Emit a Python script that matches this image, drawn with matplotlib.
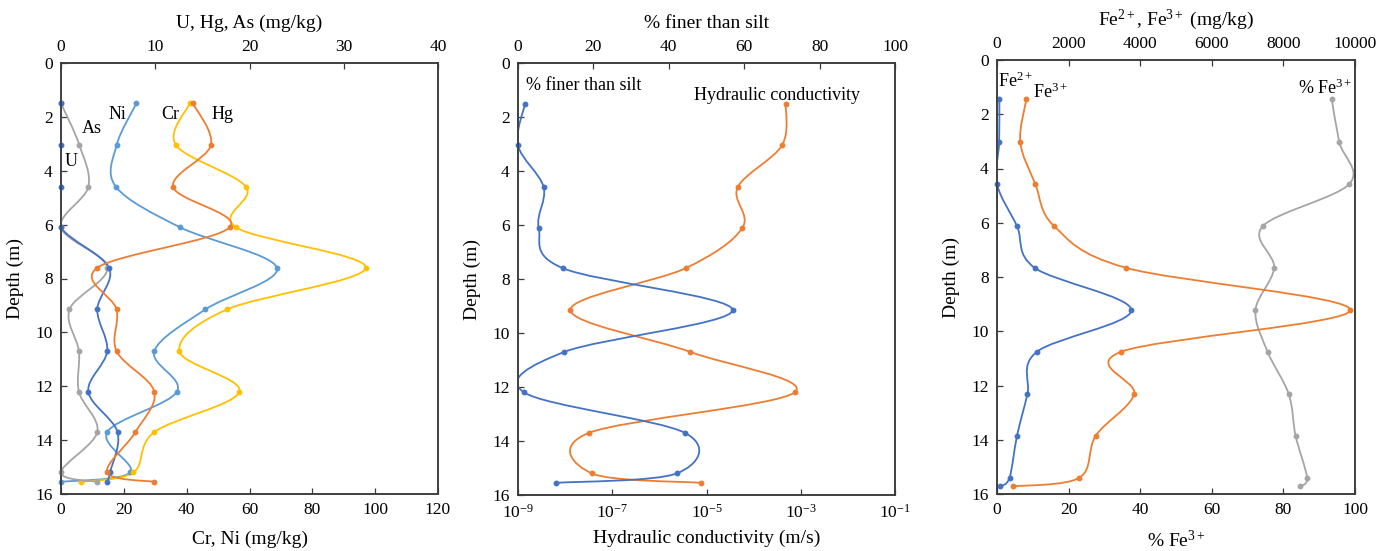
import numpy as np
import matplotlib
matplotlib.use("Agg")
import matplotlib.pyplot as plt
from matplotlib.path import Path
from matplotlib.patches import PathPatch

plt.rcParams['font.family'] = ['Liberation Serif', 'DejaVu Serif']
plt.rcParams['mathtext.fontset'] = 'custom'
plt.rcParams['mathtext.rm'] = 'Liberation Serif'
plt.rcParams['mathtext.it'] = 'Liberation Serif:italic'
plt.rcParams['mathtext.bf'] = 'Liberation Serif:bold'

# ---------------- data ----------------
depth1 = [1.5, 3.05, 4.6, 6.1, 7.6, 9.15, 10.7, 12.2, 13.7, 15.2, 15.55]
ni = [24, 17.7, 17.5, 37.9, 68.7, 45.9, 29.7, 36.9, 14.7, 22, 0]
cr = [41, 36.6, 58.9, 55.7, 97, 52.8, 37.7, 56.8, 29.7, 23, 6.4]
hg = [14, 15.9, 11.9, 17.9, 3.85, 5.9, 5.9, 9.9, 7.9, 4.9, 9.9]
as_ = [0, 1.95, 2.9, 0, 4.9, 0.9, 1.9, 1.9, 3.85, 0, 3.85]
u = [0, 0, 0, 0, 5.1, 3.85, 4.9, 2.9, 6.0, 5.2, 4.9]

depth2 = [1.5, 3.05, 4.6, 6.1, 7.6, 9.15, 10.7, 12.2, 13.7, 15.2, 15.55]
finer = [1.9, 0, 6.8, 5.5, 11.9, 56.9, 12.3, 1.6, 44.3, 42.1, 10.2]
hyd_k = [4.8e-4, 4.0e-4, 4.6e-5, 5.8e-5, 3.6e-6, 1.3e-8, 4.5e-6, 7.4e-4,
         3.2e-8, 3.7e-8, 7.6e-6]

depth3 = [1.45, 3.03, 4.57, 6.13, 7.66, 9.22, 10.76, 12.32, 13.85, 15.4, 15.72]
fe2 = [65, 60, 0, 560, 1050, 3750, 1110, 850, 560, 350, 90]
fe3 = [820, 650, 1070, 1600, 3600, 9870, 3460, 3830, 2760, 2300, 440]
pct_fe3 = [93.5, 95.6, 98.4, 74.2, 77.4, 72.2, 75.6, 81.5, 83.4, 86.6, 84.5]

depth_ticks = [0, 2, 4, 6, 8, 10, 12, 14, 16]

C_ORANGE = '#ED7D31'
C_GRAY = '#A5A5A5'
C_YELLOW = '#FFC000'
C_LBLUE = '#5B9BD5'
C_DBLUE = '#4472C4'
SPINE = '#3a3a3a'

TICK_FS = 12.5
LABEL_FS = 14
ANN_FS = 13

W, H = 1385, 551
fig = plt.figure(figsize=(W / 100, H / 100), dpi=100)


def add_axes_px(l, r, t, b):
    return fig.add_axes([l / W, 1 - b / H, (r - l) / W, (b - t) / H])


def smooth_curve(ax, xs, ys, color, logx=False, lw=1.3):
    """Excel-like smoothed line drawn as cubic Bezier path."""
    xs = np.asarray(xs, float)
    ys = np.asarray(ys, float)
    X = np.log10(xs) if logx else xs
    P = np.column_stack([X, ys])
    n = len(P)
    verts = [P[0]]
    codes = [Path.MOVETO]
    for i in range(n - 1):
        p0 = P[i - 1] if i > 0 else P[i]
        p1 = P[i]
        p2 = P[i + 1]
        p3 = P[i + 2] if i + 2 < n else P[i + 1]
        c1 = p1 + (p2 - p0) / 6.0
        c2 = p2 - (p3 - p1) / 6.0
        verts += [c1, c2, p2]
        codes += [Path.CURVE4] * 3
    V = np.array(verts)
    if logx:
        V[:, 0] = 10 ** V[:, 0]
    patch = PathPatch(Path(V, codes), facecolor='none', edgecolor=color,
                      lw=lw, transform=ax.transData, clip_on=True)
    ax.add_patch(patch)
    ax.plot(xs, ys, 'o', ms=3.2, color=color, linestyle='none', clip_on=False)


def style(ax, top):
    for s in ax.spines.values():
        s.set_color(SPINE)
        s.set_linewidth(1.1)
    ax.tick_params(axis='both', direction='in', length=4, width=0.9,
                   color=SPINE, labelsize=TICK_FS, pad=6)
    if top:
        ax.tick_params(axis='x', top=True, bottom=False, labeltop=True,
                       labelbottom=False)


def base_panel(l, r, t, b):
    ax = add_axes_px(l, r, t, b)
    ax.set_ylim(16, 0)
    ax.set_yticks(depth_ticks)
    ax.set_ylabel('Depth (m)', fontsize=LABEL_FS, labelpad=8)
    axt = ax.twiny()
    ax.set_ylim(16, 0)
    style(ax, False)
    style(axt, True)
    ax.tick_params(axis='x', top=False)
    ax.tick_params(axis='y', right=False)
    return ax, axt

# ---------------- panel 1 ----------------
ax1, ax1t = base_panel(61, 438, 63, 494)
ax1.set_xlim(0, 120)
ax1.set_xticks([0, 20, 40, 60, 80, 100, 120])
ax1t.set_xlim(0, 40)
ax1t.set_xticks([0, 10, 20, 30, 40])
ax1.set_xlabel('Cr, Ni (mg/kg)', fontsize=LABEL_FS, labelpad=9)
ax1t.set_xlabel('U, Hg, As (mg/kg)', fontsize=LABEL_FS, labelpad=8)

smooth_curve(ax1t, as_, depth1, C_GRAY)
smooth_curve(ax1t, u, depth1, C_DBLUE)
smooth_curve(ax1t, hg, depth1, C_ORANGE)
smooth_curve(ax1, ni, depth1, C_LBLUE)
smooth_curve(ax1, cr, depth1, C_YELLOW)

ax1.text(18, 1.93, 'Ni', fontsize=ANN_FS, ha='center', va='center')
ax1.text(9.9, 2.43, 'As', fontsize=ANN_FS, ha='center', va='center')
ax1.text(3.3, 3.67, 'U', fontsize=ANN_FS, ha='center', va='center')
ax1.text(34.7, 1.93, 'Cr', fontsize=ANN_FS, ha='center', va='center')
ax1.text(51.4, 1.93, 'Hg', fontsize=ANN_FS, ha='center', va='center')

# ---------------- panel 2 ----------------
ax2, ax2t = base_panel(518, 895, 63, 495)
ax2.set_xscale('log')
ax2.set_xlim(1e-9, 1e-1)
ax2.set_xticks([1e-9, 1e-7, 1e-5, 1e-3, 1e-1])
ax2.set_xticklabels(['$10^{-9}$', '$10^{-7}$', '$10^{-5}$', '$10^{-3}$', '$10^{-1}$'])
ax2.xaxis.set_minor_locator(matplotlib.ticker.NullLocator())
ax2t.set_xlim(0, 100)
ax2t.set_xticks([0, 20, 40, 60, 80, 100])
ax2.set_xlabel('Hydraulic conductivity (m/s)', fontsize=LABEL_FS, labelpad=6)
ax2t.set_xlabel('% finer than silt', fontsize=LABEL_FS, labelpad=8)

smooth_curve(ax2, hyd_k, depth2, C_ORANGE, logx=True)
smooth_curve(ax2t, finer, depth2, C_DBLUE)

ax2t.text(2.0, 0.83, '% finer than silt', fontsize=ANN_FS, ha='left', va='center')
ax2t.text(68.6, 1.21, 'Hydraulic conductivity', fontsize=ANN_FS, ha='center', va='center')

# ---------------- panel 3 ----------------
ax3, ax3t = base_panel(997, 1355, 60, 494)
ax3.set_xlim(0, 100)
ax3.set_xticks([0, 20, 40, 60, 80, 100])
ax3t.set_xlim(0, 10000)
ax3t.set_xticks([0, 2000, 4000, 6000, 8000, 10000])
ax3.set_xlabel('% Fe$^{3+}$', fontsize=LABEL_FS, labelpad=8)
ax3t.set_xlabel('Fe$^{2+}$, Fe$^{3+}$ (mg/kg)', fontsize=LABEL_FS, labelpad=8)

smooth_curve(ax3, pct_fe3, depth3, C_GRAY)
smooth_curve(ax3t, fe3, depth3, C_ORANGE)
smooth_curve(ax3t, fe2, depth3, C_DBLUE)

ax3t.text(40, 0.8, 'Fe$^{2+}$', fontsize=ANN_FS, ha='left', va='center')
ax3t.text(1000, 1.2, 'Fe$^{3+}$', fontsize=ANN_FS, ha='left', va='center')
ax3.text(91.7, 1.03, '% Fe$^{3+}$', fontsize=ANN_FS, ha='center', va='center')

fig.savefig('out.png', dpi=100)
